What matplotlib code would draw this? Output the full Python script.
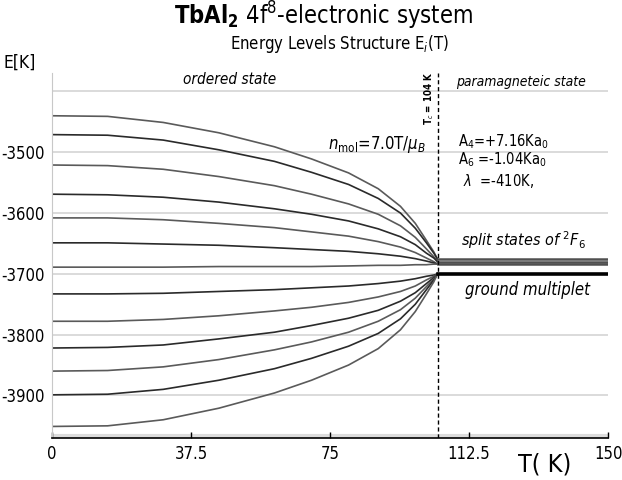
import matplotlib
matplotlib.use("Agg")
import matplotlib.pyplot as plt

plt.rcParams["mathtext.fontset"] = "custom"
plt.rcParams["mathtext.rm"] = "DejaVu Sans:stretch=condensed"
plt.rcParams["mathtext.it"] = "DejaVu Sans:italic:stretch=condensed"
plt.rcParams["mathtext.bf"] = "DejaVu Sans:bold:stretch=condensed"
FAM = ["DejaVu Sans"]

# temperature points (K) along the ordered-state curves
T = [0, 15, 30, 45, 60, 70, 80, 88, 94, 98, 101, 103, 104]

# energy levels E_i(T) in K (13 states of J=6)
levels = [
    [-3440, -3441, -3451, -3468, -3491, -3511, -3534, -3560, -3589, -3617, -3645, -3664, -3676],
    [-3471, -3472, -3480, -3496, -3515, -3533, -3553, -3576, -3600, -3625, -3649, -3666, -3676],
    [-3521, -3522, -3528, -3540, -3555, -3569, -3585, -3602, -3621, -3640, -3659, -3672, -3680],
    [-3569, -3570, -3574, -3582, -3593, -3602, -3613, -3626, -3639, -3652, -3666, -3674, -3680],
    [-3608, -3608, -3611, -3617, -3624, -3631, -3638, -3647, -3656, -3665, -3674, -3680, -3684],
    [-3649, -3649, -3651, -3653, -3657, -3660, -3663, -3667, -3671, -3675, -3679, -3682, -3684],
    [-3689, -3689, -3689, -3688, -3688, -3688, -3687, -3686, -3686, -3685, -3685, -3684, -3684],
    [-3733, -3733, -3732, -3729, -3726, -3723, -3720, -3716, -3712, -3708, -3704, -3702, -3700],
    [-3778, -3778, -3775, -3769, -3761, -3755, -3747, -3738, -3729, -3720, -3710, -3704, -3700],
    [-3822, -3821, -3817, -3807, -3796, -3785, -3773, -3760, -3745, -3731, -3716, -3706, -3700],
    [-3860, -3859, -3853, -3841, -3825, -3812, -3796, -3778, -3759, -3740, -3721, -3708, -3700],
    [-3899, -3898, -3890, -3875, -3856, -3839, -3819, -3798, -3774, -3750, -3726, -3710, -3700],
    [-3951, -3950, -3940, -3921, -3896, -3875, -3850, -3823, -3792, -3762, -3733, -3713, -3700],
]

# paramagnetic state (T > Tc)
Tc = 104
T_para = [104, 150]
split_states = [-3676, -3680, -3684]
ground = -3700

yticks = [-3500, -3600, -3700, -3800, -3900]
gridlines = [-3400, -3500, -3600, -3700, -3800, -3900]
xticks = [0, 37.5, 75, 112.5, 150]
xticklabels = ["0", "37.5", "75", "112.5", "150"]

fig = plt.figure(figsize=(6.22, 4.8), dpi=100)
ax = fig.add_axes([0.0836, 0.0875, 0.894, 0.76])

for g in gridlines:
    ax.axhline(g, color="#d4d4d4", lw=1.2, zorder=0)
ax.axhline(-3966, color="#dcdcdc", lw=3, zorder=0)

colors = ["#5a5a5a", "#2a2a2a"]
for i, row in enumerate(levels):
    ax.plot(T, row, color=colors[i % 2], lw=1.2)

for e in split_states:
    ax.plot(T_para, [e, e], color="#505050", lw=1.8)
ax.plot(T_para, [ground, ground], color="black", lw=2.6)

ax.axvline(Tc, color="black", ls=(0, (3, 2)), lw=1)

ax.set_xlim(0, 150)
ax.set_ylim(-3970, -3370)
ax.set_xticks(xticks)
ax.set_xticklabels(xticklabels, fontsize=12, family=FAM, stretch="condensed")
ax.set_yticks(yticks)
ax.set_yticklabels([str(v) for v in yticks], fontsize=12, family=FAM, stretch="condensed")
ax.tick_params(axis="x", direction="in", length=4, width=1, pad=5)
ax.tick_params(axis="y", length=0, pad=5)
for s in ["top", "right"]:
    ax.spines[s].set_visible(False)
ax.spines["left"].set_color("#c8c8c8")
ax.spines["bottom"].set_linewidth(1.2)

tx = dict(family=FAM, stretch="condensed")

# annotations
ax.text(48, -3381, "ordered state", style="italic", fontsize=11, ha="center", va="center", **tx)
ax.text(109, -3384, "paramagneteic state", style="italic", fontsize=10, ha="left", va="center", **tx)
ax.text(101.8, -3455, r"T$_c$ = 104 K", rotation=90, fontsize=7, fontweight="bold",
        ha="center", va="bottom", **tx)
ax.text(100.8, -3487, r"$n_{\mathrm{mol}}$=7.0T/$\mu_B$", fontsize=12, ha="right",
        va="center", **tx)
ax.text(109.5, -3482, r"A$_4$=+7.16Ka$_0$", fontsize=10.5, ha="left", va="center", **tx)
ax.text(109.5, -3513, r"A$_6$ =-1.04Ka$_0$", fontsize=10.5, ha="left", va="center", **tx)
ax.text(111, -3547, r"$\lambda$  =-410K,", fontsize=10.5, ha="left", va="center", **tx)
ax.text(110.2, -3645, r"split states of $^2F_6$", style="italic", fontsize=11.5,
        ha="left", va="center", **tx)
ax.text(111.5, -3727, "ground multiplet", style="italic", fontsize=12, ha="left",
        va="center", **tx)

fig.text(0.52, 0.966, r"$\mathbf{TbAl_2}$ 4f$^8$-electronic system", fontsize=17,
         ha="center", va="center", **tx)
fig.text(0.545, 0.908, r"Energy Levels Structure E$_i$(T)", fontsize=12, ha="center",
         va="center", **tx)
fig.text(0.032, 0.869, "E[K]", fontsize=12.5, ha="center", va="center", **tx)
fig.text(0.875, 0.032, "T( K)", fontsize=18, ha="center", va="center", **tx)

fig.savefig("out.png", dpi=100)
